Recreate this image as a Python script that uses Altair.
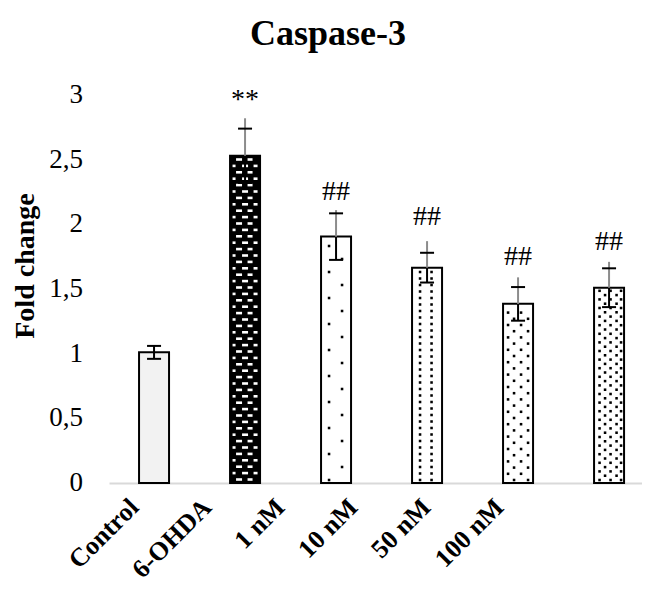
import altair as alt
import pandas as pd

# ---------------- data ----------------
groups = ["Control", "6-OHDA", "1 nM", "10 nM", "50 nM", "100 nM"]
means = [1.01, 2.53, 1.905, 1.665, 1.385, 1.51]
errors = [0.05, 0.21, 0.18, 0.115, 0.13, 0.15]
whisker_tops = [1.06, 2.82, 2.11, 1.87, 1.59, 1.71]
sig_marks = ["", "**", "##", "##", "##", "##"]
sig_y = [None, 2.90, 2.19, 1.995, 1.686, 1.80]
y_ticks = [0, 0.5, 1, 1.5, 2, 2.5, 3]
y_tick_labels = ["0", "0,5", "1", "1,5", "2", "2,5", "3"]

# ---------------- layout ----------------
W, H = 533, 388
X_DOMAIN = [-0.495, 5.362]
PXX = W / (X_DOMAIN[1] - X_DOMAIN[0])
PXY = H / 3.0
BAR_HALF = 15 / PXX
CAP_HALF = 7 / PXX
SERIF = "Liberation Serif"

xscale = alt.Scale(domain=X_DOMAIN, nice=False, zero=False)
yscale = alt.Scale(domain=[0, 3], nice=False, zero=True)

df = pd.DataFrame({
    "group": groups,
    "xpos": list(range(len(groups))),
    "mean": means,
    "err": errors,
    "wtop": whisker_tops,
})
df["left"] = df["xpos"] - BAR_HALF
df["right"] = df["xpos"] + BAR_HALF
df["lo"] = df["mean"] - df["err"]
df["hi"] = df["mean"] + df["err"]
df["capl"] = df["xpos"] - CAP_HALF
df["capr"] = df["xpos"] + CAP_HALF
df["zero"] = 0.0

fill_scale = alt.Scale(domain=groups,
                       range=["#f2f2f2", "#000000", "#ffffff", "#ffffff", "#ffffff", "#ffffff"])

bars = alt.Chart(df).mark_bar(stroke="black", strokeWidth=2).encode(
    x=alt.X("left:Q", scale=xscale,
            axis=alt.Axis(labels=False, ticks=False, grid=False, title=None,
                          domainColor="#d9d9d9", domainWidth=2)),
    x2="right:Q",
    y=alt.Y("mean:Q", scale=yscale, axis=None),
    y2=alt.Y2("zero:Q"),
    fill=alt.Fill("group:N", scale=fill_scale, legend=None),
)

# ---------------- y tick labels ----------------
ytick_df = pd.DataFrame({"v": y_ticks, "lab": y_tick_labels})
ytick_layer = alt.Chart(ytick_df).mark_text(font=SERIF, fontSize=27, align="right",
                                            baseline="middle", color="black").encode(
    x=alt.value(-26),
    y=alt.Y("v:Q", scale=yscale, axis=None),
    text="lab:N",
)

# ---------------- bar textures (pattern fills) ----------------
dot_patterns = {
    "1 nM": (13.0, [[-7], [6]]),
    "10 nM": (6.5, [[-7, 4.5]]),
    "50 nM": (6.2, [[-4, 10], [-10, 3]]),
    "100 nM": (4.3, [[-9.5, 1.5, 12], [-4, 7.5]]),
}
dash_pattern = (6.4, [[(-6, 6), (5, 5)], [(-11, 3), (0, 6), (10.5, 4)]])

dots = []
for gi, g in enumerate(groups):
    if g in dot_patterns:
        step, rows = dot_patterns[g]
        top_px = means[gi] * PXY
        k = 0
        ypx = 3.0
        while ypx < top_px - 3.0:
            for dx in rows[k % len(rows)]:
                dots.append({"tx": gi + dx / PXX, "ty": ypx / PXY})
            ypx += step
            k += 1
dots_df = pd.DataFrame(dots)

dashes = []
gi = groups.index("6-OHDA")
step, rows = dash_pattern
top_px = means[gi] * PXY
k = 0
ypx = 3.5
while ypx < top_px - 3.0:
    for (dx, w) in rows[k % len(rows)]:
        x0 = max(dx - w / 2, -13.5)
        x1 = min(dx + w / 2, 13.5)
        dashes.append({"dx0": gi + x0 / PXX, "dx1": gi + x1 / PXX,
                       "dy0": (ypx - 1.3) / PXY, "dy1": (ypx + 1.3) / PXY})
    ypx += step
    k += 1
dash_df = pd.DataFrame(dashes)

dot_layer = alt.Chart(dots_df).mark_square(size=6.5, color="black", opacity=1).encode(
    x=alt.X("tx:Q", scale=xscale, axis=None),
    y=alt.Y("ty:Q", scale=yscale, axis=None),
)
dash_layer = alt.Chart(dash_df).mark_rect(color="white").encode(
    x=alt.X("dx0:Q", scale=xscale, axis=None), x2="dx1:Q",
    y=alt.Y("dy0:Q", scale=yscale, axis=None), y2="dy1:Q",
)

# ---------------- error bars ----------------
line_scale = alt.Scale(domain=groups,
                       range=["#000000", "#8c8c8c", "#8c8c8c", "#8c8c8c", "#8c8c8c", "#8c8c8c"])

err_low = alt.Chart(df).mark_rule(color="black", strokeWidth=2).encode(
    x=alt.X("xpos:Q", scale=xscale, axis=None),
    y=alt.Y("lo:Q", scale=yscale, axis=None), y2="mean:Q",
)
err_up = alt.Chart(df).mark_rule(strokeWidth=2).encode(
    x=alt.X("xpos:Q", scale=xscale, axis=None),
    y=alt.Y("mean:Q", scale=yscale, axis=None), y2="wtop:Q",
    color=alt.Color("group:N", scale=line_scale, legend=None),
)
cap_hi = alt.Chart(df).mark_rule(color="black", strokeWidth=2).encode(
    x=alt.X("capl:Q", scale=xscale, axis=None), x2="capr:Q",
    y=alt.Y("hi:Q", scale=yscale, axis=None),
)
cap_lo = alt.Chart(df).mark_rule(color="black", strokeWidth=2).encode(
    x=alt.X("capl:Q", scale=xscale, axis=None), x2="capr:Q",
    y=alt.Y("lo:Q", scale=yscale, axis=None),
)

# ---------------- significance marks ----------------
sig_df = pd.DataFrame({"xpos": list(range(len(groups))), "txt": sig_marks, "sy": sig_y}).dropna()
sig_layer = alt.Chart(sig_df).mark_text(font=SERIF, fontSize=28, baseline="alphabetic",
                                        align="center", color="black").encode(
    x=alt.X("xpos:Q", scale=xscale, axis=None),
    y=alt.Y("sy:Q", scale=yscale, axis=None),
    text="txt:N",
)

# ---------------- category labels (rotated) ----------------
lab_df = pd.DataFrame({"li": list(range(len(groups))), "group": groups})
lab_layer = alt.Chart(lab_df).mark_text(font=SERIF, fontSize=26, fontWeight="bold",
                                        angle=315, align="right", baseline="alphabetic",
                                        color="black").encode(
    x=alt.X("li:Q", scale=alt.Scale(domain=[-0.4247, 6.8767], nice=False, zero=False), axis=None),
    y=alt.value(414),
    text="group:N",
)

# ---------------- titles ----------------
title_layer = alt.Chart(pd.DataFrame({"t": ["Caspase-3"]})).mark_text(
    font=SERIF, fontSize=36, fontWeight="bold", align="center", baseline="alphabetic",
    color="black").encode(x=alt.value(219), y=alt.value(-50), text="t:N")

ytitle_layer = alt.Chart(pd.DataFrame({"t": ["Fold change"]})).mark_text(
    font=SERIF, fontSize=28, fontWeight="bold", align="center", baseline="alphabetic",
    angle=270, color="black").encode(x=alt.value(-75), y=alt.value(171), text="t:N")

chart = alt.layer(
    bars, dash_layer, dot_layer, err_low, err_up, cap_hi, cap_lo,
    ytick_layer, sig_layer, lab_layer, title_layer, ytitle_layer,
).resolve_scale(x="independent").properties(
    width=W, height=H,
    autosize=alt.AutoSizeParams(type="none"),
    padding={"left": 101, "top": 87, "right": 0, "bottom": 100},
    background="white",
).configure_view(stroke=None)

chart.save("out.html", embed_options={"renderer": "svg", "actions": False})
